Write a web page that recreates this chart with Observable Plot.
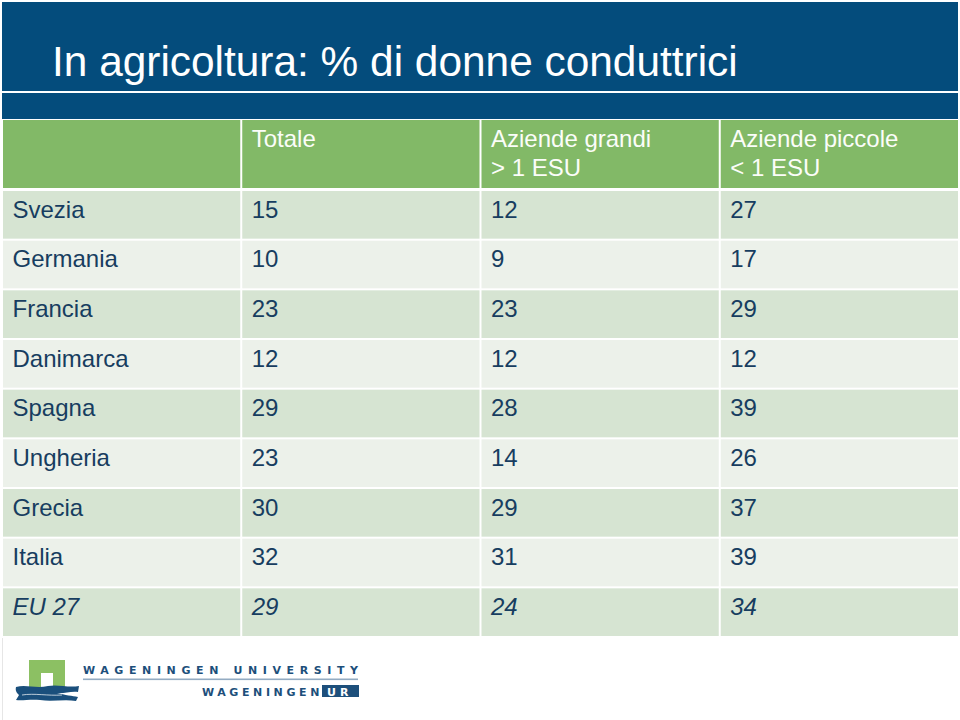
<!DOCTYPE html>
<html>
<head>
<meta charset="utf-8">
<script src="https://cdn.jsdelivr.net/npm/d3@7"></script>
<script src="https://cdn.jsdelivr.net/npm/@observablehq/plot@0.6"></script>
<style>
  body { margin: 0; background: #ffffff; font-family: "Liberation Sans", Arial, sans-serif; }
  #page { position: relative; width: 960px; height: 720px; overflow: hidden; background: #fff; }
  .band { position: absolute; left: 2px; width: 956px; background: #044c7c; }
  #title { position: absolute; left: 52px; top: 41px; font-size: 42.4px; line-height: 42px; color: #ffffff; white-space: nowrap; }
  #hdr { position: absolute; left: 0; top: 120px; }
  #body { position: absolute; left: 0; top: 189px; }
  #logo { position: absolute; left: 0; top: 640px; }
  #edge { position: absolute; left: 2px; top: 638px; width: 1px; height: 82px; background: #e6e6e6; }
</style>
</head>
<body>
<div id="page">
  <div class="band" style="top:2px;height:89px;"></div>
  <div class="band" style="top:93px;height:26px;"></div>
  <div id="title">In agricoltura: % di donne conduttrici</div>
  <div id="hdr"></div>
  <div id="body"></div>
  <div id="edge"></div>
  <svg id="logo" width="400" height="80" xmlns="http://www.w3.org/2000/svg">
    <path d="M29,20 H65 V48 H53 V33 H41 V48 H29 Z" fill="#8cc063"/>
    <path d="M16,47 C26,44 36,49 48,46 C58,44 68,48 79,46 L78,52 C70,51 64,54 56,53 C66,55 72,56 78,57 L76,61 C64,59 52,62 40,60 C30,59 22,61 16,60 L19,55 C17,53 15,51 16,47 Z" fill="#1a4f7c"/>
    <path d="M22,55 C34,53 48,56 62,55" stroke="#ffffff" stroke-width="1" fill="none" opacity="0.7"/>
    <text x="83" y="34" font-family="DejaVu Sans, sans-serif" font-weight="bold" font-size="11" letter-spacing="5.6" fill="#1d4f7b">WAGENINGEN UNIVERSITY</text>
    <rect x="83" y="38.5" width="275" height="1.6" fill="#93abc2"/>
    <text x="202" y="55.5" font-family="DejaVu Sans, sans-serif" font-weight="bold" font-size="11" letter-spacing="3.6" fill="#1d4f7b">WAGENINGEN</text>
    <rect x="322" y="45" width="37" height="12" fill="#1d4f7b"/>
    <text x="327" y="55.5" font-family="DejaVu Sans, sans-serif" font-weight="bold" font-size="11" letter-spacing="4" fill="#ffffff">UR</text>
  </svg>
</div>
<script>
// ---- data ----
const headers = ["", "Totale", "Aziende grandi\n> 1 ESU", "Aziende piccole\n< 1 ESU"];
const countries = ["Svezia", "Germania", "Francia", "Danimarca", "Spagna", "Ungheria", "Grecia", "Italia", "EU 27"];
const totale  = [15, 10, 23, 12, 29, 23, 30, 32, 29];
const grandi  = [12,  9, 23, 12, 28, 14, 29, 31, 24];
const piccole = [27, 17, 29, 12, 39, 26, 37, 39, 34];
const italicRow = "EU 27";

// ---- styling ----
const GREEN = "#82b967";
const ROW_DARK = "#d6e4d2";
const ROW_LIGHT = "#ecf1ea";
const TEXT = "#173d60";

const headCells = headers.map((h, c) => ({c, text: h}));
const cells = [];
countries.forEach((name, r) => {
  [name, totale[r], grandi[r], piccole[r]].forEach((v, c) => {
    cells.push({r, c, text: String(v), italic: name === italicRow});
  });
});

const header = Plot.plot({
  width: 960, height: 68, margin: 0,
  style: {background: "transparent", fontFamily: "Liberation Sans, Arial, sans-serif"},
  x: {domain: [0, 4], range: [2, 959], axis: null},
  y: {axis: null},
  marks: [
    Plot.rect(headCells, {x1: d => d.c, x2: d => d.c + 1, fill: GREEN, insetLeft: 1, insetRight: 1}),
    Plot.text(headCells, {x: d => d.c, text: d => d.text, frameAnchor: "top", textAnchor: "start",
      lineAnchor: "top", lineHeight: 1.2, dx: 10, dy: 6.5, fill: "#fbfdf9", fontSize: 24})
  ]
});
document.getElementById("hdr").appendChild(header);

const body = Plot.plot({
  width: 960, height: 448, margin: 0,
  style: {background: "transparent", fontFamily: "Liberation Sans, Arial, sans-serif"},
  x: {domain: [0, 4], range: [2, 959], axis: null},
  y: {domain: [0, countries.length], range: [0, 447], axis: null},
  marks: [
    Plot.rect(cells.filter(d => d.r % 2 === 0), {x1: d => d.c, x2: d => d.c + 1, y1: d => d.r, y2: d => d.r + 1,
      fill: ROW_DARK, insetLeft: 1, insetRight: 1, insetTop: 2}),
    Plot.rect(cells.filter(d => d.r % 2 === 1), {x1: d => d.c, x2: d => d.c + 1, y1: d => d.r, y2: d => d.r + 1,
      fill: ROW_LIGHT, insetLeft: 1, insetRight: 1, insetTop: 2}),
    Plot.text(cells.filter(d => !d.italic), {x: d => d.c, y: d => d.r + 0.5, text: "text", textAnchor: "start",
      lineAnchor: "middle", dx: 10, dy: -4.5, fill: TEXT, fontSize: 24}),
    Plot.text(cells.filter(d => d.italic), {x: d => d.c, y: d => d.r + 0.5, text: "text", textAnchor: "start",
      lineAnchor: "middle", dx: 10, dy: -4.5, fill: TEXT, fontSize: 24, fontStyle: "italic"})
  ]
});
document.getElementById("body").appendChild(body);
</script>
</body>
</html>
